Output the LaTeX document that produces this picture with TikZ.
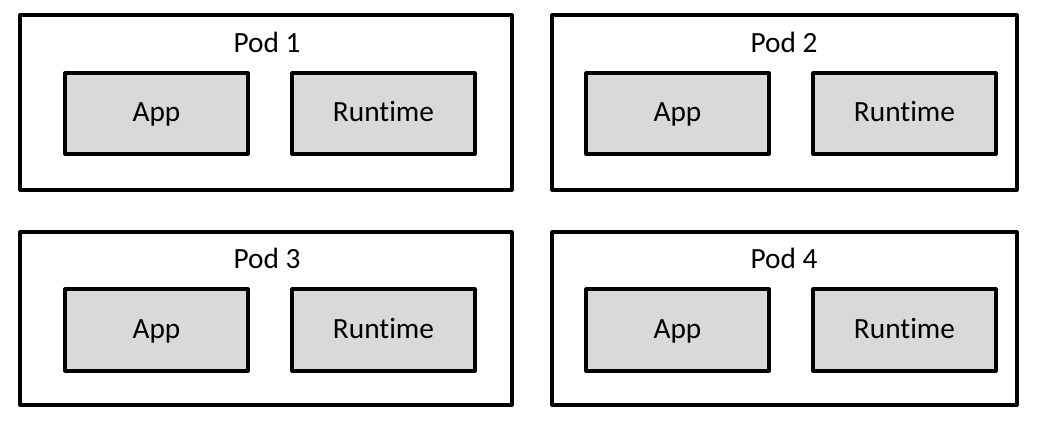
\documentclass[tikz,border=0pt]{standalone}
\usepackage{fontspec}
\setmainfont[Ligatures=NoCommon]{Carlito}
\definecolor{innergray}{HTML}{D9D9D9}
\begin{document}
\begin{tikzpicture}[x=0.75pt,y=-0.75pt,
  podbox/.style={draw=black,line width=2.3pt,fill=white,rectangle,inner sep=0pt,line join=round},
  partbox/.style={draw=black,line width=2.3pt,fill=innergray,rectangle,inner sep=0pt,line join=round,
    minimum width=137.25pt,font=\fontsize{22}{26}\selectfont,text height=14pt,text depth=1.25pt},
  podtitle/.style={anchor=base,inner sep=0pt,font=\fontsize{22}{26}\selectfont}]
\useasboundingbox (0,0) rectangle (1040,445);
% Pods
\node[podbox,minimum width=369pt,minimum height=131.25pt] (pod1) at (266,102.5) {};
\node[podbox,minimum width=348.75pt,minimum height=131.25pt] (pod2) at (784.5,102.5) {};
\node[podbox,minimum width=369pt,minimum height=129.75pt] (pod3) at (266,318.5) {};
\node[podbox,minimum width=348.75pt,minimum height=129.75pt] (pod4) at (784.5,318.5) {};
% Titles
\node[podtitle] (t1) at (267,53) {Pod 1};
\node[podtitle] (t2) at (784,53) {Pod 2};
\node[podtitle] (t3) at (267,269) {Pod 3};
\node[podtitle] (t4) at (784,269) {Pod 4};
% Parts
\node[partbox,minimum height=60.75pt] (app1) at (156.5,113.5) {App};
\node[partbox,minimum height=60.75pt] (rt1) at (383.5,113.5) {Runtime};
\node[partbox,minimum height=60.75pt] (app2) at (677.5,113.5) {App};
\node[partbox,minimum height=60.75pt] (rt2) at (904.5,113.5) {Runtime};
\node[partbox,minimum height=61.5pt] (app3) at (156.5,330) {App};
\node[partbox,minimum height=61.5pt] (rt3) at (383.5,330) {Runtime};
\node[partbox,minimum height=61.5pt] (app4) at (677.5,330) {App};
\node[partbox,minimum height=61.5pt] (rt4) at (904.5,330) {Runtime};
\end{tikzpicture}
\end{document}
